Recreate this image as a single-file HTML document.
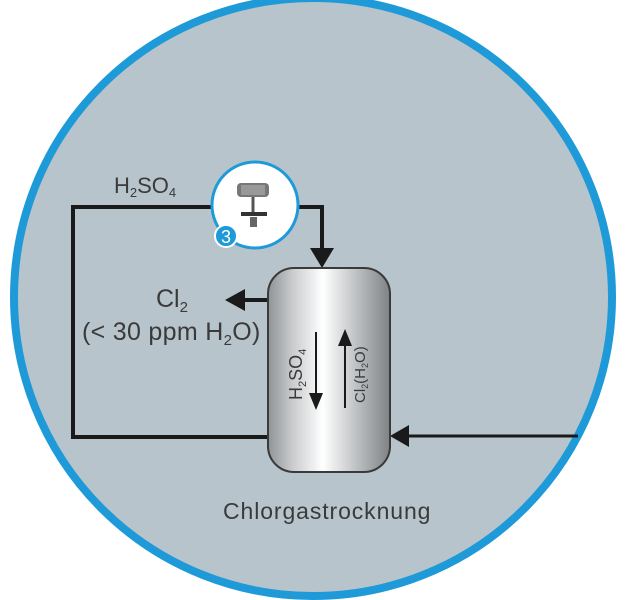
<!DOCTYPE html>
<html><head><meta charset="utf-8"><style>
html,body{margin:0;padding:0;background:#fff;}
svg{display:block;}
text{font-family:"Liberation Sans",sans-serif;fill:#3a3a3a;}
</style></head><body>
<svg width="626" height="600" viewBox="0 0 626 600" xmlns="http://www.w3.org/2000/svg">
<defs>
<linearGradient id="g" x1="0" x2="1" y1="0" y2="0">
<stop offset="0" stop-color="#8f9396"/>
<stop offset="0.2" stop-color="#c9cbcd"/>
<stop offset="0.45" stop-color="#ffffff"/>
<stop offset="0.7" stop-color="#c4c7c9"/>
<stop offset="1" stop-color="#7e8285"/>
</linearGradient>
</defs>
<circle cx="313" cy="297" r="299" fill="#b8c4cb" stroke="#1e9ad9" stroke-width="8"/>
<polyline points="212,207 73,207 73,437 268,437" fill="none" stroke="#1a1a1a" stroke-width="4"/>
<polyline points="296,207 322,207 322,250" fill="none" stroke="#1a1a1a" stroke-width="4"/>
<polygon points="310,248 334,248 322,268" fill="#1a1a1a"/>
<line x1="578" y1="436" x2="405" y2="436" stroke="#1a1a1a" stroke-width="3"/>
<polygon points="390,436 409,425 409,447" fill="#1a1a1a"/>
<line x1="268" y1="300" x2="242" y2="300" stroke="#1a1a1a" stroke-width="4"/>
<polygon points="225,300 245,289 245,311" fill="#1a1a1a"/>
<rect x="268" y="268" width="122" height="204" rx="26" fill="url(#g)" stroke="#3a3a3a" stroke-width="2"/>
<line x1="316" y1="332" x2="316" y2="395" stroke="#1a1a1a" stroke-width="2"/>
<polygon points="309,393 323,393 316,410" fill="#1a1a1a"/>
<line x1="345" y1="408" x2="345" y2="345" stroke="#1a1a1a" stroke-width="2"/>
<polygon points="338,346 352,346 345,329" fill="#1a1a1a"/>
<text transform="translate(302,400) rotate(-90)" font-size="18">H<tspan font-size="11" dy="4">2</tspan><tspan dy="-4">SO</tspan><tspan font-size="11" dy="4">4</tspan></text>
<text transform="translate(365,403) rotate(-90)" font-size="15">Cl<tspan font-size="9" dy="3">2</tspan><tspan dy="-3">(H</tspan><tspan font-size="9" dy="3">2</tspan><tspan dy="-3">O)</tspan></text>
<circle cx="255" cy="205" r="43" fill="#fff" stroke="#1e9ad9" stroke-width="3"/>
<rect x="237" y="183" width="32" height="14" rx="4" fill="#777"/>
<rect x="241" y="185" width="24" height="10" fill="#999"/>
<line x1="253" y1="197" x2="253" y2="212" stroke="#555" stroke-width="3"/>
<rect x="241" y="212" width="26" height="4" fill="#333"/>
<rect x="250" y="217" width="7" height="10" fill="#666"/>
<circle cx="226" cy="236" r="11" fill="#1e9ad9" stroke="#fff" stroke-width="2"/>
<text x="226" y="243" font-size="18" text-anchor="middle" style="fill:#fff">3</text>
<text x="114" y="193" font-size="22">H<tspan font-size="13" dy="4">2</tspan><tspan dy="-4">SO</tspan><tspan font-size="13" dy="4">4</tspan></text>
<text x="156" y="307" font-size="25">Cl<tspan font-size="15" dy="5">2</tspan></text>
<text x="82" y="340" font-size="25" letter-spacing="0.3">(&lt; 30 ppm H<tspan font-size="15" dy="5">2</tspan><tspan dy="-5">O)</tspan></text>
<text x="223" y="519" font-size="23" letter-spacing="0.9">Chlorgastrocknung</text>
</svg>
</body></html>
